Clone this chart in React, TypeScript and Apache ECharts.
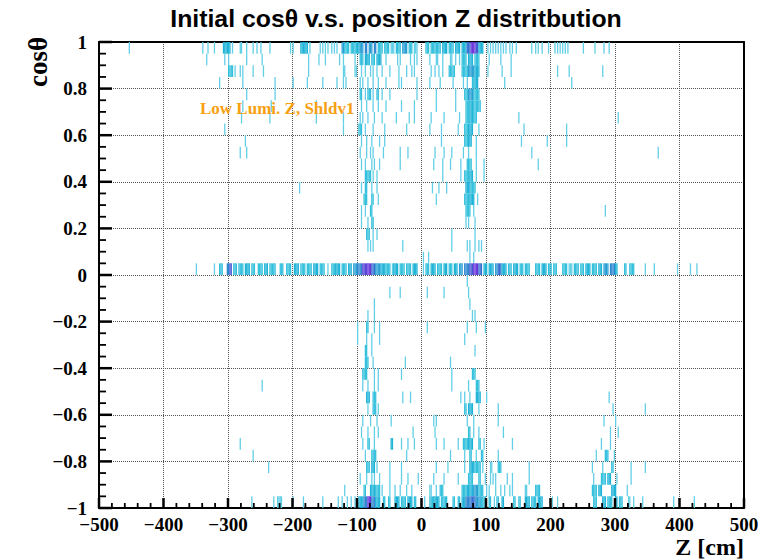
import React, { useEffect, useRef } from "react";
import * as echarts from "echarts";

// Histogram binning
const Z_BIN = 2; // cm
const COS_BIN = 0.05;

// Entry formats per row: z (one bin, 1 entry) | [z, n] | [zFrom, zTo, n] (run of bins with n entries each)
// upperRows[i] -> cosθ bin with lower edge 0.95 - 0.05*i
const upperRows: any[][] = [
  [-453, -340, -332, -321, [-308, -296, 3], -293, -282, -279, -272, -262, -256, -249, -236, -204, -200, [-188, -176, 3], -173, -158, -153, -150, -145, -140, -135, -132, [-124, -120, 4], [-120, -112, 2], [-110, -100, 2], [-100, -96, 3], [-96, -90, 4], [-88, -84, 5], [-82, -76, 4], [-74, -70, 5], [-68, -60, 2], [-58, -50, 2], [-48, -42, 1], [-40, -32, 2], [-30, -22, 4], [-20, -14, 2], [-12, -6, 1], [6, 12, 2], [14, 30, 2], [32, 40, 3], [42, 50, 2], [52, 60, 3], [62, 70, 3], [70, 76, 6], [76, 84, 9], [84, 88, 7], [88, 96, 3], 102, 106, 110, 114, 118, 122, 126, 130, 136, 140, 146, 171, 176, 181, 186, 197, 207, 210, 214, 218, 222, 226, 251, 269, 282, 290],
  [-333, -305, -300, -271, -248, -176, -160, -150, -127, -122, -104, [-96, -90, 2], [-88, -80, 3], [-78, -72, 2], [-70, -62, 3], -55, -38, -34, -18, -12, -7, 13, 22, 24, 32, 44, 46, 52, 58, [62, 70, 2], [72, 80, 3], [82, 90, 2], 104, 123, 138],
  [[-300, -292, 2], -290, -282, -277, -261, -246, -176, -122, -119, -104, -101, -93, -88, -80, -75, -70, -62, -49, -36, -23, -16, -11, 15, 21, 26, 32, [42, 52, 2], [62, 72, 2], [72, 82, 4], [82, 90, 3], 103, 124, 138, 210, 228, 280],
  [-313, -277, -228, -199, -178, -153, -132, -122, -117, -96, -92, -83, -75, -67, -55, -36, -31, -8, 13, 28, 48, 65, 70, [78, 82, 2], [82, 88, 3], 129, 233],
  [-272, -228, [-96, -92, 2], -88, [-84, -78, 2], -75, [-70, -66, 2], -62, -49, -8, 23, 52, [66, 72, 2], [72, 80, 4], [80, 90, 2]],
  [-277, -233, -163, -93, -86, -75, -67, -55, -31, -11, 23, 52, [68, 74, 2], [74, 80, 3], [80, 92, 2]],
  [-280, -236, -163, -122, -96, -92, -83, -73, -62, -39, -20, -11, 14, 34, 58, [68, 74, 2], [74, 80, 3], [80, 86, 2], 150, 305],
  [-305, -122, [-98, -92, 2], -88, -75, -57, -23, 13, 31, 57, [66, 72, 2], [72, 80, 3], 88, 158, 225],
  [-274, -93, -86, -78, -65, -57, 30, [66, 72, 2], [72, 78, 3], 85, 155, 194, 225],
  [-282, -272, -95, -86, -80, -75, -60, -34, -21, 21, 34, 47, 65, 72, 85, 171, 367],
  [-93, -87, -78, -73, -65, -34, 19, 33, 44, 60, [70, 78, 2], 85, 96, 180],
  [[-88, -78, 2], -75, -70, 32, 60, [66, 74, 2], [74, 80, 3], 85, 96],
  [-189, -93, [-88, -84, 2], -78, -70, 16, 26, 39, [68, 76, 3], [76, 84, 2]],
  [[-90, -84, 2], [-78, -74, 2], -67, 23, [66, 74, 2], [74, 82, 3], 86],
  [-93, -88, [-80, -76, 2], [68, 76, 2], 80, 285],
  [-93, -83, [-78, -74, 2], 68, 72, 83],
  [[-86, -80, 2], -75, -70, 47, 83],
  [-84, -80, -75, -29, 47, 70, 75, 83, 88, 92],
  [2, 10, 75, 80],
];

// cosθ bin [0, 0.05)
const zeroRow: any[] = [-349, -321, [-314, -308, 2], [-302, -298, 5], [-298, -294, 7], [-292, -286, 2], [-284, -276, 2], [-274, -266, 3], [-264, -258, 2], [-254, -246, 2], [-244, -238, 3], [-236, -226, 2], [-220, -214, 2], [-210, -202, 2], [-198, -190, 3], [-188, -180, 2], [-178, -170, 2], [-168, -160, 3], [-158, -150, 2], -146, [-140, -134, 2], [-134, -126, 3], [-124, -116, 2], [-114, -108, 3], [-106, -100, 4], [-100, -92, 5], [-92, -84, 8], [-84, -78, 9], [-78, -72, 6], [-72, -64, 4], [-64, -56, 3], [-56, -48, 2], -46, [-44, -36, 3], [-34, -26, 2], [-24, -16, 2], [-14, -6, 3], 2, [6, 12, 2], [14, 22, 3], [24, 32, 2], [34, 40, 3], [42, 48, 2], [50, 56, 3], [58, 64, 4], [66, 74, 5], [74, 80, 7], [80, 88, 9], [88, 94, 6], [96, 102, 3], [104, 112, 3], [114, 118, 4], [118, 124, 6], [124, 132, 3], [134, 140, 2], [142, 150, 3], [152, 158, 2], [160, 168, 2], [176, 184, 2], [186, 194, 3], [196, 202, 2], [204, 210, 2], [218, 226, 2], [228, 234, 1], [236, 244, 2], [246, 252, 2], [254, 262, 3], [264, 272, 2], [274, 280, 3], [282, 290, 4], [292, 300, 5], [300, 304, 3], [314, 318, 2], [322, 330, 2], 347, 360, 396, 417, 427];

// lowerRows[i] -> cosθ bin with lower edge -0.05 - 0.05*i
const lowerRows: any[][] = [
  [70],
  [-49, -34, 8, 34, 73],
  [-73, 74],
  [-83, -73, 78, 83],
  [-99, [-86, -82, 2], -73, -65, 8, 70, 85, 99],
  [-99, -86, -78, -65, 67],
  [[-88, -84, 2], -78, 83],
  [[-88, -82, 2], -75, -26, 44],
  [[-92, -84, 2], -73, -67, -31, 47, [78, 84, 2]],
  [-248, -91, -83, -73, -67, 47, 72, [84, 90, 2]],
  [[-86, -80, 3], [-76, -70, 2], -29, -18, 61, 67, 75, [84, 92, 3], 101, 290],
  [-83, [-76, -70, 2], -67, [66, 70, 2], [72, 80, 3], 88, 119, 296, 347],
  [-91, -80, -70, -47, 18, 23, 70, 80, 119, 283, 300],
  [-93, -83, -73, -67, -13, 20, [72, 76, 2], 80, 88, 127, 292, 305],
  [-282, -91, [-84, -80, 2], -73, [-48, -44, 3], -31, -21, -11, 22, 34, 57, [64, 72, 2], [72, 80, 3], [88, 92, 2], 96, 141, 278, 293],
  [-261, -88, [-78, -70, 2], -23, 44, 67, [74, 78, 2], 85, [92, 96, 2], 119, 270, [284, 290, 2], 298],
  [-238, [-86, -80, 2], [-78, -72, 3], -70, -50, -32, 23, 41, 67, [74, 82, 3], [82, 92, 2], 94, 106, 109, [118, 124, 2], 166, 265, 281, [294, 298, 2], 324, 347],
  [-96, -86, -78, -73, -65, -49, -31, -21, -5, 18, 35, 57, [72, 80, 2], [88, 92, 2], 98, 106, 111, 114, 132, 140, 166, 267, [278, 286, 2], [288, 294, 3], 303, 324],
  [-119, [-90, -86, 2], [-80, -72, 3], [-72, -64, 2], -62, -49, -42, -34, -23, -16, 13, 15, 23, [28, 34, 2], [62, 70, 2], [70, 80, 3], [80, 88, 4], [88, 96, 2], 101, 105, 115, 122, 129, 137, 141, 160, 163, [176, 184, 2], [264, 272, 2], [274, 280, 3], [294, 302, 3], 318],
];

// cosθ bin [-1, -0.95)
const bottomRow: any[] = [-264, -230, [-224, -216, 1], -199, -184, -153, -129, -124, -116, -110, -104, [-98, -90, 3], [-90, -84, 5], [-84, -78, 9], [-78, -72, 5], [-72, -64, 3], [-60, -56, 2], [-52, -48, 2], [-42, -34, 3], [-32, -24, 2], [-22, -14, 3], [-12, -8, 2], 5, [12, 18, 2], [18, 28, 3], [30, 40, 2], [48, 52, 2], [56, 60, 2], [62, 68, 3], [68, 76, 5], [76, 84, 6], [84, 92, 4], [92, 100, 2], [104, 108, 2], 112, [116, 120, 2], [124, 128, 3], [142, 146, 2], [150, 154, 2], [160, 168, 3], [170, 178, 2], [180, 188, 3], 202, 210, [266, 272, 2], [280, 286, 3], [288, 296, 2], [300, 304, 3], [306, 312, 2], [320, 324, 1], 328, 342, 391, 422];

// axis: [min, max, major interval, minor divisions]
const xTicks = [-500, 500, 100, 5];
const yTicks = [-1, 1, 0.2, 4];

const palette = ["#62cfe6", "#33c0dc", "#1eb3d7", "#2a9fd4", "#2f87d0", "#366fd2", "#4558d5", "#5744d8", "#6a36da"];

function snap(z: number) {
  return Math.floor(z / Z_BIN) * Z_BIN;
}

function expandRow(row: any[], cosLow: number, out: number[][]) {
  for (const e of row) {
    if (typeof e === "number") {
      out.push([snap(e), cosLow, 1]);
    } else if (e.length === 2) {
      out.push([snap(e[0]), cosLow, e[1]]);
    } else {
      for (let z = snap(e[0]); z < e[1]; z += Z_BIN) out.push([z, cosLow, e[2]]);
    }
  }
}

function buildCells() {
  const out: number[][] = [];
  upperRows.forEach((r, i) => expandRow(r, Math.round((0.95 - COS_BIN * i) * 100) / 100, out));
  expandRow(zeroRow, 0, out);
  lowerRows.forEach((r, i) => expandRow(r, Math.round((-0.05 - COS_BIN * i) * 100) / 100, out));
  expandRow(bottomRow, -1, out);
  return out;
}

// tick marks (inside the frame, ROOT style), positioned on the axes' own scales
function buildTicks() {
  const out: number[][] = [];
  const xs = xTicks[2] / xTicks[3];
  const nx = Math.round((xTicks[1] - xTicks[0]) / xs);
  for (let i = 0; i <= nx; i++) out.push([xTicks[0] + i * xs, yTicks[0], i % xTicks[3] === 0 ? 1 : 0]);
  const ys = yTicks[2] / yTicks[3];
  const ny = Math.round((yTicks[1] - yTicks[0]) / ys);
  for (let i = 0; i <= ny; i++) out.push([xTicks[0], Math.round((yTicks[0] + i * ys) * 1000) / 1000, i % yTicks[3] === 0 ? 3 : 2]);
  return out;
}

const minus = (s: string) => s.replace("-", "\u2212");
const serif = "'Liberation Serif', 'Times New Roman', serif";
const tickLen = [5, 10, 7, 13];

export default function App() {
  const ref = useRef<HTMLDivElement>(null);
  useEffect(() => {
    if (!ref.current) return;
    const chart = echarts.init(ref.current, undefined, { renderer: "svg" });
    const cells = buildCells();
    const ticks = buildTicks();
    chart.setOption({
      animation: false,
      grid: { left: 99, right: 19, top: 42, bottom: 52, show: false },
      xAxis: [
        {
          type: "value",
          position: "bottom",
          min: xTicks[0],
          max: xTicks[1],
          interval: xTicks[2],
          axisLine: { show: true, onZero: false, lineStyle: { color: "#000", width: 2 } },
          axisTick: { show: false },
          minorTick: { show: false },
          splitLine: { show: true, lineStyle: { color: "#555", type: "dotted", width: 1 } },
          axisLabel: {
            show: true,
            color: "#000",
            fontFamily: serif,
            fontWeight: "bold",
            fontSize: 19,
            margin: 7,
            formatter: (v: number) => minus(String(Math.round(v))),
          },
        },
        {
          type: "value",
          position: "top",
          min: xTicks[0],
          max: xTicks[1],
          interval: xTicks[2],
          axisLine: { show: true, onZero: false, lineStyle: { color: "#000", width: 2 } },
          axisTick: { show: false },
          splitLine: { show: false },
          axisLabel: { show: false },
        },
      ],
      yAxis: [
        {
          type: "value",
          position: "left",
          min: yTicks[0],
          max: yTicks[1],
          interval: yTicks[2],
          axisLine: { show: true, onZero: false, lineStyle: { color: "#000", width: 2 } },
          axisTick: { show: false },
          minorTick: { show: false },
          splitLine: { show: true, lineStyle: { color: "#555", type: "dotted", width: 1 } },
          axisLabel: {
            show: true,
            color: "#000",
            fontFamily: serif,
            fontWeight: "bold",
            fontSize: 19,
            margin: 12,
            formatter: (v: number) => minus(String(Math.round(v * 10) / 10)),
          },
        },
        {
          type: "value",
          position: "right",
          min: yTicks[0],
          max: yTicks[1],
          interval: yTicks[2],
          axisLine: { show: true, onZero: false, lineStyle: { color: "#000", width: 2 } },
          axisTick: { show: false },
          splitLine: { show: false },
          axisLabel: { show: false },
        },
      ],
      series: [
        {
          type: "custom",
          clip: true,
          xAxisIndex: 0,
          yAxisIndex: 0,
          encode: { x: 0, y: 1 },
          data: cells,
          renderItem: (params: any, api: any) => {
            const z0 = api.value(0);
            const c0 = api.value(1);
            const n = api.value(2);
            const p0 = api.coord([z0, c0 + COS_BIN]);
            const p1 = api.coord([z0 + Z_BIN, c0]);
            return {
              type: "rect",
              shape: { x: p0[0], y: p0[1], width: p1[0] - p0[0], height: p1[1] - p0[1] },
              style: { fill: palette[Math.min(n, palette.length) - 1] },
            };
          },
        },
        {
          type: "custom",
          clip: false,
          z: 10,
          silent: true,
          xAxisIndex: 0,
          yAxisIndex: 0,
          encode: { x: 0, y: 1 },
          data: ticks,
          renderItem: (params: any, api: any) => {
            const p = api.coord([api.value(0), api.value(1)]);
            const k = api.value(2);
            const len = tickLen[k];
            const isX = k < 2;
            return {
              type: "rect",
              shape: isX
                ? { x: p[0] - (k === 1 ? 1.25 : 0.9), y: p[1] - len, width: k === 1 ? 2.5 : 1.8, height: len }
                : { x: p[0], y: p[1] - (k === 3 ? 1.25 : 0.9), width: len, height: k === 3 ? 2.5 : 1.8 },
              style: { fill: "#000" },
            };
          },
        },
      ],
      graphic: [
        {
          type: "text",
          x: 396,
          y: 19,
          scaleX: 1.08,
          style: {
            text: "Initial cos\u03b8 v.s. position Z distritbution",
            fill: "#000",
            font: "bold 23px 'Liberation Sans', Arial, sans-serif",
            align: "center",
            verticalAlign: "middle",
          },
        },
        {
          type: "text",
          x: 38,
          y: 37,
          rotation: Math.PI / 2,
          style: {
            text: "cos\u03b8",
            fill: "#000",
            font: "bold 27px " + serif,
            align: "right",
            verticalAlign: "middle",
          },
        },
        {
          type: "text",
          x: 744,
          y: 547,
          style: {
            text: "Z [cm]",
            fill: "#000",
            font: "bold 24px " + serif,
            align: "right",
            verticalAlign: "middle",
          },
        },
        {
          type: "text",
          x: 200,
          y: 108,
          z: 100,
          style: {
            text: "Low Lumi. Z, Shldv1",
            fill: "#f7a012",
            font: "bold 17px " + serif,
            align: "left",
            verticalAlign: "middle",
          },
        },
      ],
    });
    return () => chart.dispose();
  }, []);
  return <div ref={ref} style={{ position: "fixed", left: 0, top: 0, width: 763, height: 560, background: "#fff" }} />;
}
